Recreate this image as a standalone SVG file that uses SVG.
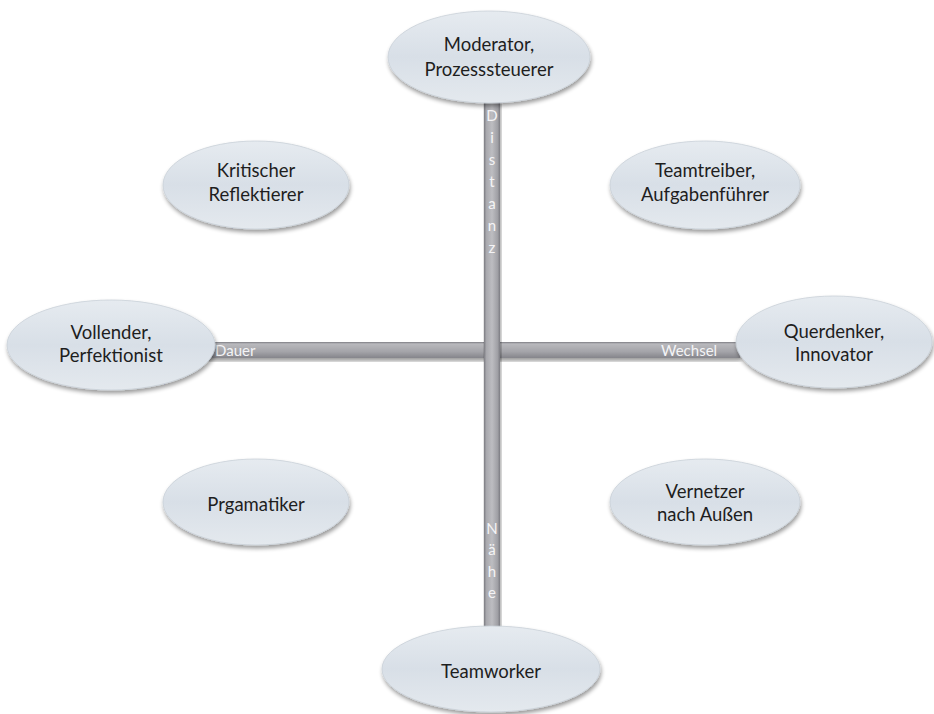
<svg xmlns="http://www.w3.org/2000/svg" width="934" height="714" viewBox="0 0 934 714">
<defs>
  <linearGradient id="ellFill" x1="0" y1="0" x2="0" y2="1">
    <stop offset="0" stop-color="#e6ebf0"/>
    <stop offset="0.5" stop-color="#d8dfe7"/>
    <stop offset="1" stop-color="#e4e9ee"/>
  </linearGradient>
  <linearGradient id="barH" x1="0" y1="0" x2="0" y2="1">
    <stop offset="0" stop-color="#7c7c82"/>
    <stop offset="0.12" stop-color="#b9b9bd"/>
    <stop offset="0.6" stop-color="#a4a4a9"/>
    <stop offset="1" stop-color="#85858b"/>
  </linearGradient>
  <linearGradient id="barV" x1="0" y1="0" x2="1" y2="0">
    <stop offset="0" stop-color="#7c7c82"/>
    <stop offset="0.15" stop-color="#a9a9ae"/>
    <stop offset="0.5" stop-color="#bdbdc1"/>
    <stop offset="0.85" stop-color="#a0a0a5"/>
    <stop offset="1" stop-color="#7c7c82"/>
  </linearGradient>
  <filter id="shadow" x="-10%" y="-10%" width="120%" height="130%">
    <feGaussianBlur in="SourceAlpha" stdDeviation="2"/>
    <feOffset dx="1" dy="3" result="b"/>
    <feComponentTransfer><feFuncA type="linear" slope="0.4"/></feComponentTransfer>
    <feMerge><feMergeNode/><feMergeNode in="SourceGraphic"/></feMerge>
  </filter>
</defs>
<style>
  .ell { fill: url(#ellFill); stroke: #c9d0d8; stroke-width: 0.8; filter: url(#shadow); }
  .lbl { font-family: Lato, "Open Sans", "Liberation Sans", sans-serif; font-size: 18.5px; fill: #1e1e1e; text-anchor: middle; }
  .axis { font-family: Lato, "Open Sans", "Liberation Sans", sans-serif; font-size: 15px; fill: #f4f4f6; }
  .axv { font-family: Lato, "Open Sans", "Liberation Sans", sans-serif; font-size: 15px; fill: #f4f4f6; text-anchor: middle; }
</style>
<rect width="934" height="714" fill="#ffffff"/>

<g id="connectors">
  <rect x="205" y="342" width="535" height="16" fill="url(#barH)" filter="url(#shadow)"/>
  <rect x="484" y="98" width="16" height="532" fill="url(#barV)" filter="url(#shadow)"/>
  <text class="axis" x="215" y="356">Dauer</text>
  <text class="axis" x="661" y="356">Wechsel</text>
  <g class="axv">
    <text x="492" y="121">D</text>
    <text x="492" y="143">i</text>
    <text x="492" y="165">s</text>
    <text x="492" y="187">t</text>
    <text x="492" y="209">a</text>
    <text x="492" y="231">n</text>
    <text x="492" y="253">z</text>
    <text x="492" y="534">N</text>
    <text x="492" y="555">ä</text>
    <text x="492" y="577">h</text>
    <text x="492" y="598">e</text>
  </g>
</g>

<g id="moderator">
  <ellipse class="ell" cx="489" cy="57" rx="101" ry="46"/>
  <text class="lbl" x="489" y="51">Moderator,</text>
  <text class="lbl" x="489" y="76">Prozesssteuerer</text>
</g>
<g id="kritischer">
  <ellipse class="ell" cx="256" cy="185" rx="93" ry="44"/>
  <text class="lbl" x="256" y="177">Kritischer</text>
  <text class="lbl" x="256" y="201">Reflektierer</text>
</g>
<g id="teamtreiber">
  <ellipse class="ell" cx="705" cy="185" rx="95" ry="44"/>
  <text class="lbl" x="705" y="177">Teamtreiber,</text>
  <text class="lbl" x="705" y="201">Aufgabenführer</text>
</g>
<g id="vollender">
  <ellipse class="ell" cx="111" cy="345" rx="104" ry="45"/>
  <text class="lbl" x="111" y="339">Vollender,</text>
  <text class="lbl" x="111" y="362">Perfektionist</text>
</g>
<g id="querdenker">
  <ellipse class="ell" cx="834" cy="342" rx="98" ry="46"/>
  <text class="lbl" x="834" y="338">Querdenker,</text>
  <text class="lbl" x="834" y="361">Innovator</text>
</g>
<g id="prgamatiker">
  <ellipse class="ell" cx="256" cy="502" rx="93" ry="43"/>
  <text class="lbl" x="256" y="511">Prgamatiker</text>
</g>
<g id="vernetzer">
  <ellipse class="ell" cx="705" cy="502" rx="95" ry="43"/>
  <text class="lbl" x="705" y="498">Vernetzer</text>
  <text class="lbl" x="705" y="521">nach Außen</text>
</g>
<g id="teamworker">
  <ellipse class="ell" cx="491" cy="669" rx="109" ry="43"/>
  <text class="lbl" x="491" y="678">Teamworker</text>
</g>
</svg>
